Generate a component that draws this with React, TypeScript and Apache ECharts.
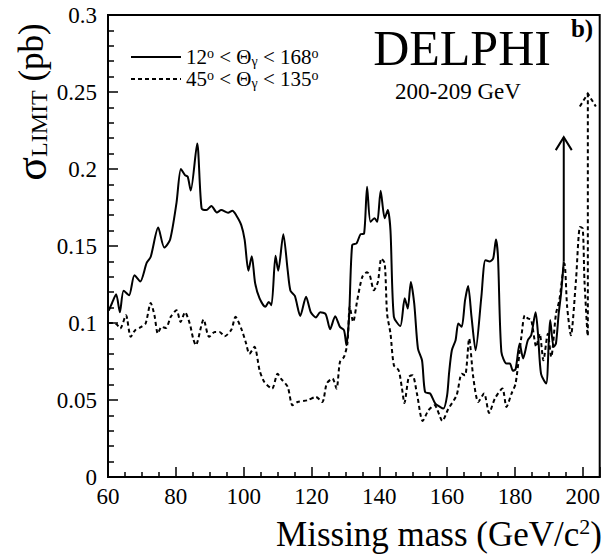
import React, { useEffect, useRef } from 'react';
import * as echarts from 'echarts';

const FONT = '"Liberation Serif", "Times New Roman", serif';

// Solid curve: 12° < Θγ < 168°
const solidX = [60.2, 61.2, 62.4, 63.5, 64.6, 66.2, 67.8, 69.5, 71.4, 72.6, 74.8, 76.6, 78.3, 80.2, 81.5, 82.7, 83.5, 84.4, 86.3, 87.6, 89.0, 90.5, 92.1, 93.4, 95.4, 96.7, 97.8, 99.3, 100.3, 101.4, 102.4, 103.4, 104.7, 106.4, 107.4, 108.2, 109.4, 110.2, 111.7, 113.0, 113.8, 115.1, 116.7, 118.4, 119.8, 121.3, 122.6, 124.2, 125.5, 127.0, 128.4, 129.6, 130.3, 131.1, 132.0, 133.3, 134.5, 135.5, 136.4, 137.4, 138.6, 139.4, 140.4, 141.6, 142.5, 143.3, 144.3, 146.2, 147.5, 148.4, 149.3, 150.3, 151.4, 152.6, 153.5, 155.0, 156.5, 157.9, 158.9, 160.0, 160.6, 161.4, 162.5, 163.3, 164.3, 165.3, 166.2, 167.2, 168.4, 170.1, 171.3, 172.6, 173.6, 174.4, 175.0, 176.0, 177.5, 178.5, 179.4, 180.2, 181.4, 182.4, 183.8, 184.8, 186.1, 186.8, 187.7, 189.2, 190.0, 190.4, 191.4, 192.1, 192.9, 193.6, 194.4];
const solidY = [0.108, 0.113, 0.1186, 0.107, 0.121, 0.118, 0.131, 0.127, 0.139, 0.143, 0.162, 0.149, 0.154, 0.178, 0.200, 0.196, 0.195, 0.186, 0.2166, 0.1744, 0.1733, 0.176, 0.1718, 0.1733, 0.1716, 0.1729, 0.170, 0.1636, 0.154, 0.134, 0.1434, 0.1257, 0.116, 0.1105, 0.1137, 0.1116, 0.1436, 0.134, 0.1577, 0.134, 0.121, 0.1176, 0.1046, 0.117, 0.107, 0.1036, 0.107, 0.1057, 0.096, 0.1044, 0.0975, 0.0953, 0.0856, 0.104, 0.1506, 0.1517, 0.1577, 0.158, 0.1884, 0.1657, 0.168, 0.1657, 0.1858, 0.168, 0.1733, 0.160, 0.104, 0.098, 0.116, 0.1094, 0.1267, 0.1127, 0.0834, 0.0758, 0.0552, 0.0542, 0.0477, 0.0455, 0.0444, 0.053, 0.068, 0.0823, 0.0888, 0.0997, 0.0975, 0.1148, 0.124, 0.104, 0.0823, 0.117, 0.1408, 0.140, 0.142, 0.1542, 0.143, 0.0812, 0.0737, 0.0737, 0.069, 0.070, 0.0867, 0.077, 0.0888, 0.092, 0.107, 0.093, 0.067, 0.0607, 0.0888, 0.102, 0.0845, 0.0867, 0.106, 0.119, 0.14];

// Dashed curve: 45° < Θγ < 135°
const dashedX = [60.2, 61.6, 62.6, 63.6, 65.3, 66.7, 68.0, 69.8, 71.1, 72.6, 73.7, 74.7, 75.8, 77.1, 78.5, 80.2, 81.4, 82.7, 84.1, 85.1, 85.9, 88.2, 89.8, 91.5, 92.9, 94.4, 96.4, 97.6, 99.3, 100.6, 101.7, 103.2, 104.7, 106.1, 108.4, 110.0, 111.0, 113.0, 114.4, 115.9, 118.8, 121.3, 123.2, 124.5, 126.2, 127.4, 128.4, 129.6, 130.6, 131.3, 132.3, 133.5, 135.0, 136.4, 137.2, 138.4, 139.6, 140.6, 141.6, 142.3, 143.3, 144.3, 145.7, 146.7, 147.4, 148.7, 149.8, 151.1, 152.8, 154.5, 156.3, 158.6, 160.3, 162.8, 164.3, 165.3, 166.5, 167.7, 169.2, 170.9, 172.4, 174.1, 176.3, 177.5, 179.0, 180.2, 181.9, 182.9, 183.8, 184.8, 186.3, 187.3, 188.4, 189.7, 190.7, 192.1, 193.1, 194.6, 195.4, 196.5, 198.0, 199.2, 200.0, 200.5, 201.4];
const dashedY = [0.100, 0.100, 0.099, 0.0964, 0.105, 0.091, 0.0953, 0.0975, 0.0997, 0.113, 0.105, 0.0932, 0.0975, 0.0968, 0.104, 0.1083, 0.1007, 0.107, 0.0997, 0.090, 0.0856, 0.1023, 0.091, 0.0942, 0.0942, 0.0914, 0.0958, 0.104, 0.0964, 0.0877, 0.080, 0.0845, 0.0693, 0.0617, 0.0574, 0.067, 0.0639, 0.0585, 0.0466, 0.0487, 0.0498, 0.052, 0.0487, 0.0607, 0.0639, 0.0574, 0.0747, 0.078, 0.0867, 0.1105, 0.1007, 0.1148, 0.130, 0.133, 0.131, 0.1213, 0.1267, 0.1419, 0.1387, 0.106, 0.0932, 0.0726, 0.0693, 0.0574, 0.048, 0.065, 0.0661, 0.0542, 0.0364, 0.0433, 0.0466, 0.0364, 0.044, 0.0531, 0.067, 0.066, 0.0899, 0.065, 0.0487, 0.0542, 0.0416, 0.051, 0.0574, 0.0455, 0.0542, 0.0607, 0.091, 0.105, 0.103, 0.102, 0.0845, 0.093, 0.0758, 0.093, 0.078, 0.106, 0.1148, 0.1387, 0.1105, 0.092, 0.1278, 0.1624, 0.1614, 0.1278, 0.092];

// Limit arrows: [x, from, to]
const solidArrow = [[194.4, 0.14, 0.2207]];
const dashedArrow = [[201.5, 0.092, 0.249]];

const solidName = '12° < Θγ < 168°';
const dashedName = '45° < Θγ < 135°';
const legendRich: Record<string, string> = {
  [solidName]: '{n|12}{sup|o}{n| < Θ}{sub|γ}{n| < 168}{sup|o}',
  [dashedName]: '{n|45}{sup|o}{n| < Θ}{sub|γ}{n| < 135}{sup|o}',
};

const pairs = (xs: number[], ys: number[]) => xs.map((x, i) => [x, ys[i]]);

const arrowRender = (dash: number[] | null) => (params: any, api: any) => {
  const x = api.value(0);
  const a = api.coord([x, api.value(1)]);
  const b = api.coord([x, api.value(2)]);
  const style = { stroke: '#000', lineWidth: 2, fill: 'none', lineDash: dash || undefined };
  return {
    type: 'group',
    children: [
      { type: 'line', shape: { x1: a[0], y1: a[1], x2: b[0], y2: b[1] }, style },
      {
        type: 'polyline',
        shape: { points: [[b[0] - 8, b[1] + 13], [b[0], b[1]], [b[0] + 8, b[1] + 13]] },
        style,
      },
    ],
  };
};

const tickText = { t: { fontFamily: FONT, fontSize: 23, color: '#000' } };
const tickFmt = (v: number) => `{t|${String(+(+v).toFixed(3))}}`;

export default function App() {
  const ref = useRef<HTMLDivElement>(null);
  useEffect(() => {
    const chart = echarts.init(ref.current!, null, { renderer: 'svg' });
    chart.setOption({
      animation: false,
      textStyle: { fontFamily: FONT, color: '#000' },
      grid: { left: 108, right: 1, top: 15, bottom: 79, show: true, borderColor: '#000', borderWidth: 2, backgroundColor: 'transparent' },
      legend: {
        data: [solidName, dashedName],
        orient: 'vertical',
        left: 125,
        top: 41,
        itemWidth: 50,
        itemHeight: 14,
        itemGap: 0,
        selectedMode: false,
        itemStyle: { color: 'rgba(0,0,0,0)', borderWidth: 0, borderColor: 'rgba(0,0,0,0)' },
        formatter: (name: string) => legendRich[name] || name,
        textStyle: {
          fontFamily: FONT,
          color: '#000',
          fontSize: 21,
          rich: {
            n: { fontFamily: FONT, fontSize: 21, lineHeight: 22, color: '#000' },
            sup: { fontFamily: FONT, fontSize: 14, lineHeight: 14, verticalAlign: 'top', color: '#000' },
            sub: { fontFamily: FONT, fontSize: 14, lineHeight: 14, verticalAlign: 'bottom', color: '#000' },
          },
        },
      },
      xAxis: {
        type: 'value',
        min: 60,
        max: 205,
        interval: 20,
        axisLine: { show: true, lineStyle: { color: '#000', width: 2 } },
        axisTick: { show: true, inside: true, length: 10, lineStyle: { color: '#000', width: 1.5 } },
        minorTick: { show: true, splitNumber: 4, length: 5, lineStyle: { color: '#000', width: 1.5 } },
        splitLine: { show: false },
        axisLabel: { fontFamily: FONT, fontSize: 23, color: '#000', margin: 8, showMaxLabel: false, formatter: tickFmt, rich: tickText },
      },
      yAxis: {
        type: 'value',
        min: 0,
        max: 0.3,
        interval: 0.05,
        axisLine: { show: true, lineStyle: { color: '#000', width: 2 } },
        axisTick: { show: true, inside: true, length: 10, lineStyle: { color: '#000', width: 1.5 } },
        minorTick: { show: true, splitNumber: 5, length: 6, lineStyle: { color: '#000', width: 1.5 } },
        splitLine: { show: false },
        axisLabel: { fontFamily: FONT, fontSize: 23, color: '#000', margin: 11, formatter: tickFmt, rich: tickText },
      },
      graphic: [
        { type: 'text', x: 462, y: 48, style: { text: 'DELPHI', font: `50px ${FONT}`, fill: '#000', align: 'center', verticalAlign: 'middle' } },
        { type: 'text', x: 582, y: 28, style: { text: 'b)', font: `bold 25px ${FONT}`, fill: '#000', align: 'center', verticalAlign: 'middle' } },
        { type: 'text', x: 458, y: 91, style: { text: '200-209 GeV', font: `23px ${FONT}`, fill: '#000', align: 'center', verticalAlign: 'middle' } },
        {
          type: 'text', x: 602, y: 534,
          style: {
            text: '{n|Missing mass (GeV/c}{sup|2}{n|)}',
            align: 'right', verticalAlign: 'middle', fill: '#000',
            rich: {
              n: { fontFamily: FONT, fontSize: 35, lineHeight: 38, fill: '#000' },
              sup: { fontFamily: FONT, fontSize: 22, lineHeight: 22, verticalAlign: 'top', fill: '#000' },
            },
          },
        },
        {
          type: 'text', x: 31, y: 102, rotation: Math.PI / 2,
          style: {
            text: '{s|σ}{sub|LIMIT}{n| (pb)}',
            align: 'center', verticalAlign: 'middle', fill: '#000',
            rich: {
              s: { fontFamily: FONT, fontSize: 44, lineHeight: 40, fill: '#000' },
              sub: { fontFamily: FONT, fontSize: 24, lineHeight: 22, verticalAlign: 'bottom', fill: '#000' },
              n: { fontFamily: FONT, fontSize: 35, lineHeight: 38, fill: '#000' },
            },
          },
        },
      ],
      series: [
        {
          name: solidName, type: 'line', data: pairs(solidX, solidY), showSymbol: false, symbol: 'none', smooth: 0.25,
          lineStyle: { color: '#000', width: 2 }, itemStyle: { color: '#000' },
        },
        {
          name: dashedName, type: 'line', data: pairs(dashedX, dashedY), showSymbol: false, symbol: 'none', smooth: 0.25,
          lineStyle: { color: '#000', width: 2, type: [4, 3] }, itemStyle: { color: '#000' },
        },
        { name: 'arrowSolid', type: 'custom', data: solidArrow, encode: { x: 0, y: [1, 2] }, renderItem: arrowRender(null), clip: false },
        { name: 'arrowDashed', type: 'custom', data: dashedArrow, encode: { x: 0, y: [1, 2] }, renderItem: arrowRender([4, 3]), clip: false },
      ],
    });
    return () => chart.dispose();
  }, []);
  return <div ref={ref} style={{ position: 'absolute', left: 0, top: 0, width: 603, height: 556 }} />;
}
